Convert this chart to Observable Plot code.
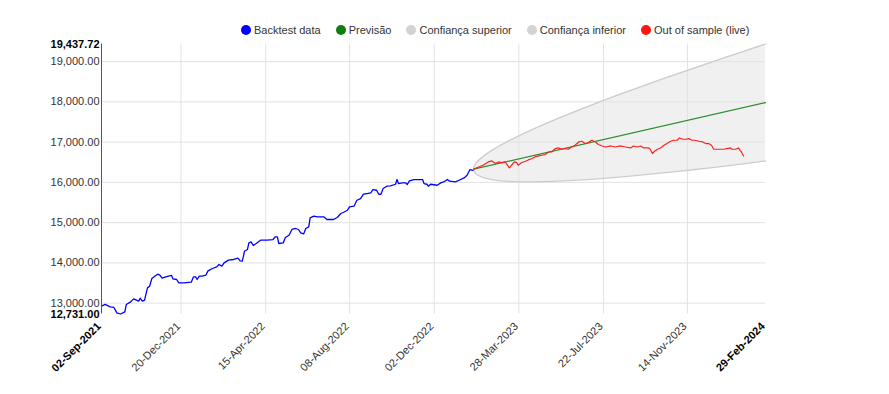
<!DOCTYPE html>
<html><head><meta charset="utf-8">
<script src="https://cdn.jsdelivr.net/npm/d3@7"></script>
<script src="https://cdn.jsdelivr.net/npm/@observablehq/plot@0.6"></script>
<style>
body{margin:0;background:#fff;font-family:"Liberation Sans",Arial,sans-serif;}
#wrap{position:relative;width:889px;height:394px;}
#wrap svg{position:absolute;left:0;top:0;}
#legend{position:absolute;left:241px;top:23px;display:flex;font-size:11px;color:#333;line-height:14px;white-space:nowrap;z-index:2;}
.item{display:flex;align-items:center;margin-right:15px;}
.dot{width:10px;height:10px;border-radius:50%;margin-right:3px;}
</style></head>
<body><div id="wrap"><div id="legend"></div></div>
<script>
// ---- data (days counted from startDate) ----
const startDate = "2021-09-02";
const endDate = "2024-02-29";
const backtestDays = [0,5,12,17,21,26,32,34,40,44,48,51,53,56,59,63,66,69,73,77,80,83,88,92,96,98,103,106,113,123,126,129,131,134,138,143,146,152,158,161,165,168,174,181,187,190,193,196,200,202,205,208,212,218,227,235,238,241,243,249,252,257,261,266,270,273,277,280,284,286,291,296,305,309,318,323,328,332,337,340,346,350,355,359,364,369,372,377,380,383,386,391,396,403,405,407,412,417,419,422,428,440,442,446,448,451,460,465,469,474,477,485,490,497,501,505,509];
const backtestValues = [12926,12968,12908,12893,12759,12731,12784,12968,13032,13107,13074,13050,13124,13050,13074,13380,13422,13613,13670,13720,13695,13621,13653,13670,13688,13603,13588,13504,13504,13521,13653,13653,13588,13670,13670,13695,13802,13861,13901,13961,13919,14000,14068,14085,14117,14050,14043,14291,14333,14497,14522,14432,14482,14564,14564,14581,14646,14646,14482,14497,14631,14688,14830,14855,14830,14745,14720,14855,14894,15118,15160,15142,15142,15078,15078,15128,15227,15259,15309,15391,15408,15557,15599,15706,15723,15738,15823,15805,15706,15706,15848,15905,15912,15954,16071,15972,15987,15987,15947,16036,16071,16071,15972,15954,15905,15954,15929,15987,16011,16071,16029,16011,16054,16111,16178,16319,16300];
const liveDays = [510,517,523,530,535,540,544,549,553,555,559,562,566,569,571,576,581,585,590,594,599,603,608,613,617,622,626,631,635,640,644,649,654,658,663,667,672,677,681,686,691,698,704,711,718,725,729,734,739,743,750,752,755,758,762,766,771,775,780,784,789,792,797,801,805,809,813,819,824,828,832,836,839,846,853,857,862,864,869,873,875,877,880];
const liveValues = [16330,16384,16426,16508,16533,16468,16508,16493,16508,16468,16359,16426,16508,16493,16426,16493,16525,16558,16592,16632,16657,16674,16692,16756,16756,16841,16856,16823,16841,16823,16880,16923,17005,17022,16965,16990,17047,17005,16940,16905,16880,16905,16880,16905,16880,16856,16905,16880,16905,16856,16856,16823,16716,16774,16823,16856,16923,16965,17022,17047,17047,17104,17072,17072,17089,17047,17047,17022,17005,16965,16965,16923,16823,16823,16823,16841,16856,16823,16823,16856,16798,16756,16657];
const forecastDays = [510, 910];
const forecastValues = [16330, 17983];
const bandDays = [510,510.5,511.5,513,516,520,526,535,548,565,590,620,660,710,770,840,910];
const bandUpper = [16330,16383,16425,16468,16533,16601,16686,16796,16935,17095,17310,17546,17839,18184,18576,19013,19437.72];
const bandLower = [16330,16281,16247,16216,16177,16141,16106,16070,16039,16019,16012,16024,16061,16130,16234,16375,16531];
const xTickLabels = ["02-Sep-2021","20-Dec-2021","15-Apr-2022","08-Aug-2022","02-Dec-2022","28-Mar-2023","22-Jul-2023","14-Nov-2023","29-Feb-2024"];
const yTicks = [13000,14000,15000,16000,17000,18000,19000];
const legendLabels = ["Backtest data","Previsão","Confiança superior","Confiança inferior","Out of sample (live)"];
const legendColors = ["#0000ff","#0d800d","#d3d3d3","#d3d3d3","#ff1414"];

// ---- build ----
const t0 = d3.utcParse("%Y-%m-%d")(startDate);
const t1 = d3.utcParse("%Y-%m-%d")(endDate);
const toDate = d => new Date(+t0 + d * 864e5);
const backtest = backtestDays.map((d, i) => ({date: toDate(d), value: backtestValues[i]}));
const live = liveDays.map((d, i) => ({date: toDate(d), value: liveValues[i]}));
const forecast = forecastDays.map((d, i) => ({date: toDate(d), value: forecastValues[i]}));
const band = bandDays.map((d, i) => ({date: toDate(d), upper: bandUpper[i], lower: bandLower[i]}));
// open outline: upper bound (right to left) → nose → lower bound (left to right)
const outline = [
  ...band.slice().reverse().map(b => ({date: b.date, value: b.upper})),
  ...band.slice(1).map(b => ({date: b.date, value: b.lower}))
];
const tickDates = xTickLabels.map(d3.utcParse("%d-%b-%Y"));
const innerTicks = tickDates.slice(1, -1);
const edgeTicks = [tickDates[0], tickDates[tickDates.length - 1]];
const yMin = d3.min([...backtestValues, ...liveValues, ...bandLower]);
const yMax = d3.max([...backtestValues, ...liveValues, ...bandUpper]);
const fmtY = d3.format(",.2f");
const fmtX = d3.utcFormat("%d-%b-%Y");

const chart = Plot.plot({
  width: 889, height: 394,
  marginLeft: 101, marginRight: 124, marginTop: 43.5, marginBottom: 80.5,
  x: {type: "utc", domain: [t0, t1]},
  y: {domain: [yMin, yMax]},
  style: {fontFamily: "'Liberation Sans', Arial, sans-serif", fontSize: "11px", background: "transparent"},
  marks: [
    Plot.areaY(band, {x: "date", y1: "lower", y2: "upper", fill: "#f0f0f0", curve: "catmull-rom"}),
    Plot.gridY(yTicks, {stroke: "#e2e2e2", strokeOpacity: 1}),
    Plot.gridX(innerTicks, {stroke: "#e2e2e2", strokeOpacity: 1}),
    Plot.line(outline, {x: "date", y: "value", stroke: "#cccccc", strokeWidth: 1.3, curve: "catmull-rom"}),
    Plot.line(forecast, {x: "date", y: "value", stroke: "#2e8f2e", strokeWidth: 1.2}),
    Plot.line(backtest, {x: "date", y: "value", stroke: "#0000ff", strokeWidth: 1.3}),
    Plot.line(live, {x: "date", y: "value", stroke: "#ff2020", strokeWidth: 1.2}),
    Plot.ruleX([t0], {stroke: "#555", strokeWidth: 1}),
    Plot.axisY(yTicks, {tickSize: 0, tickPadding: 2, tickFormat: fmtY, color: "#333", label: null}),
    Plot.axisY([yMin, yMax], {tickSize: 0, tickPadding: 2, tickFormat: fmtY, color: "#000", fontWeight: "bold", label: null}),
    Plot.axisX({ticks: [], label: null, tickSize: 0}),
    Plot.text(innerTicks, {x: d => d, frameAnchor: "bottom", dy: 13, rotate: -45, textAnchor: "end", text: fmtX, fill: "#333"}),
    Plot.text(edgeTicks, {x: d => d, frameAnchor: "bottom", dy: 13, rotate: -45, textAnchor: "end", text: fmtX, fill: "#000", fontWeight: "bold"})
  ]
});
const wrap = document.getElementById("wrap");
wrap.insertBefore(chart, wrap.firstChild);

const legend = d3.select("#legend");
legendLabels.forEach((l, i) => {
  const it = legend.append("div").attr("class", "item");
  it.append("div").attr("class", "dot").style("background", legendColors[i]);
  it.append("span").text(l);
});
</script>
</body></html>
